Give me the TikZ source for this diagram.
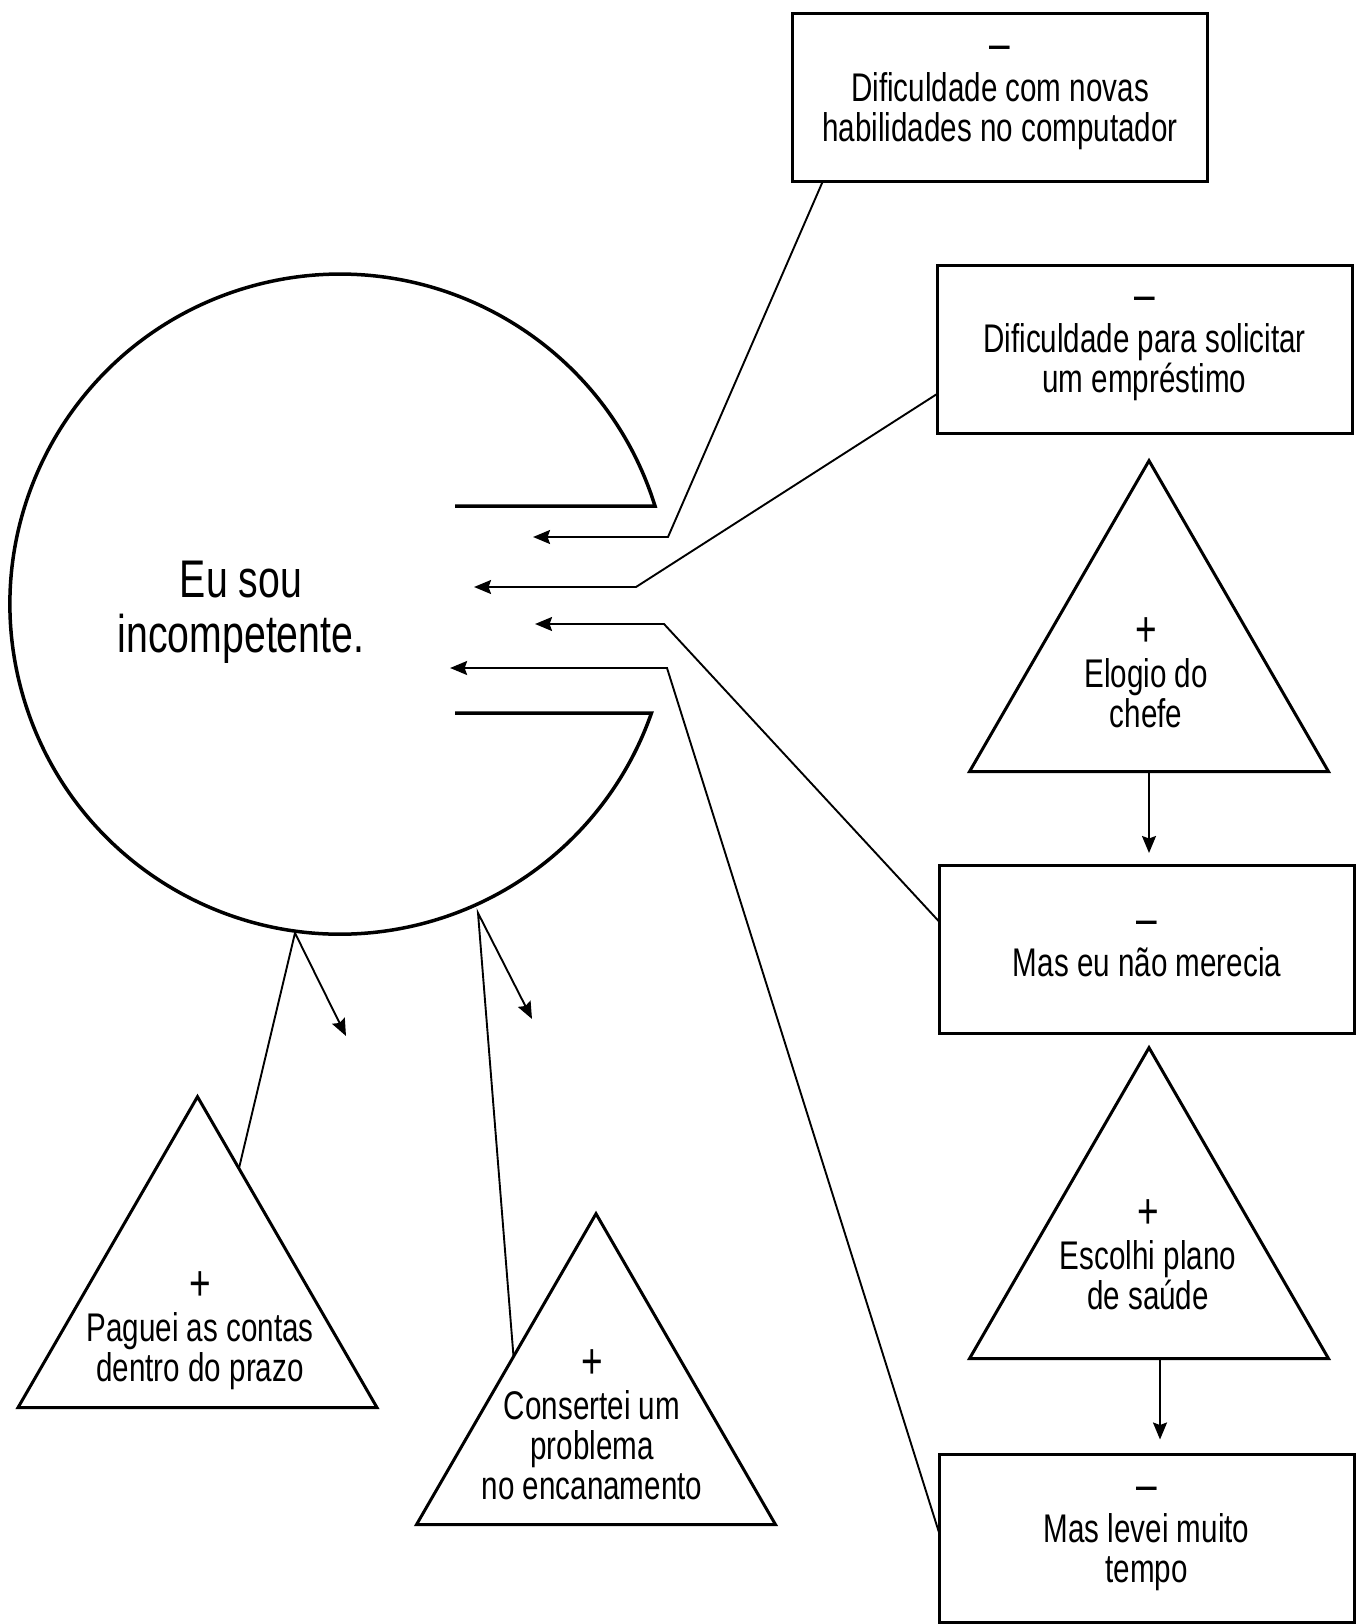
\documentclass[tikz,border=0pt]{standalone}
\usepackage{fontspec}
\setmainfont{Liberation Sans}[FakeStretch=0.74]
\usetikzlibrary{calc, shapes.geometric, arrows.meta, decorations.markings}
\newcommand{\Sign}[1]{{\fontsize{50}{40}\selectfont #1}}
\tikzset{
    Arrow/.style = {
        line width=1.9pt,
        decoration={
            markings,
            mark=at position 0.9999 with {
                \arrow[line width=1.9pt, #1]{Stealth[length=17pt, width=14pt, inset=2.5pt]}
                }
            },
        shorten >= 3pt,
        preaction = {decorate}
    },
    Arrow/.default={black},
    Box/.style = {draw, line width=3pt, minimum width=415pt, minimum height=168pt,
        align=center, outer sep=0pt, font=\fontsize{40}{40}\selectfont},
    Tri/.style = {draw, regular polygon, regular polygon sides=3,
        minimum size=414.6pt, inner sep=0pt, outer sep=0pt, line width=3pt},
    TriText/.style = {align=center, font=\fontsize{40}{40}\selectfont}
}

\begin{document}
\begin{tikzpicture}[x=1pt, y=-1pt]
    \useasboundingbox (0,0) rectangle (1362,1624);

    % the belief
    \draw[line width=3.5pt] (455,506) -- (655,506)
        arc[start angle=-17.3, end angle=-340.7, radius=330] -- (455,713);
    \node[align=center, font=\fontsize{53}{55}\selectfont] (belief) at (241,612) {Eu sou\\incompetente.};

    % negative data
    \node[Box] (comp) at (1000,98) {\Sign{–}\\[1pt]Dificuldade com novas\\habilidades no computador};
    \node[Box] (loan) at (1144.5,349) {\Sign{–}\\[1pt]Dificuldade para solicitar\\um empréstimo};
    \node[Box] (merit) at (1147,949) {\Sign{–}\\[1pt]Mas eu não merecia};
    \node[Box] (slow) at (1146.5,1538.5) {\Sign{–}\\[1pt]Mas levei muito\\tempo};

    % positive data
    \node[Tri] (praise) at (1149,668) {};
    \node[TriText] (praiseT) at (1146,673) {\Sign{+}\\[1pt]Elogio do\\chefe};
    \node[Tri] (plan) at (1149,1255) {};
    \node[TriText] (planT) at (1148,1255) {\Sign{+}\\[1pt]Escolhi plano\\de saúde};
    \node[Tri] (bills) at (197.5,1304) {};
    \node[TriText] (billsT) at (200,1331) {\Sign{+}\\[1pt]Paguei as contas\\dentro do prazo};
    \node[Tri] (pipe) at (596,1421) {};
    \node[TriText] (pipeT) at (592,1425) {\Sign{+}\\[1pt]Consertei um\\problema\\no encanamento};

    % points at the opening
    \coordinate (k1) at (668,537); \coordinate (t1) at (533,537);
    \coordinate (k2) at (636,587); \coordinate (t2) at (474,587);
    \coordinate (k3) at (664,624); \coordinate (t3) at (535,624);
    \coordinate (k4) at (667,668); \coordinate (t4) at (450,668);
    % points under the circle
    \coordinate (c3) at (295,933); \coordinate (e3) at (346,1036);
    \coordinate (c4) at (478,913); \coordinate (e4) at (532,1019);

    \draw [Arrow] ([xshift=30pt]comp.south west) -- (k1) -- (t1);
    \draw [Arrow] ([yshift=-45pt]loan.west) -- (k2) -- (t2);
    \draw [Arrow] ([yshift=27pt]merit.west) -- (k3) -- (t3);
    \draw [Arrow] ([yshift=6pt]slow.west) -- (k4) -- (t4);
    \draw [Arrow] (bills.73) -- (c3) -- (e3);
    \draw [Arrow] (pipe.142) -- (c4) -- (e4);
    \draw [Arrow] (praise.south) -- ($(praise.south |- merit.north)+(0,-12)$);
    \draw [Arrow] ($(plan.south)+(11,0)$) -- ($(plan.south |- slow.north)+(11,-15)$);
\end{tikzpicture}
\end{document}
